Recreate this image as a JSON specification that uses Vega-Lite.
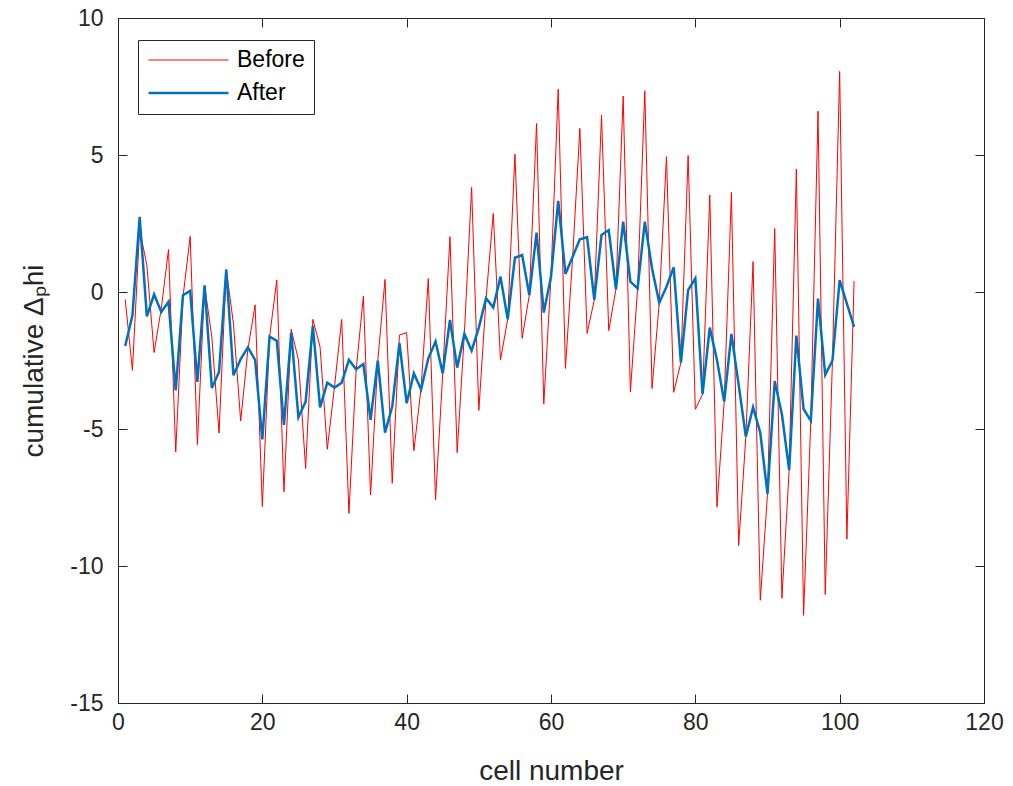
{
  "$schema": "https://vega.github.io/schema/vega-lite/v6.json",
  "width": 866,
  "height": 685,
  "autosize": {"type": "none"},
  "padding": {"left": 118, "top": 18, "right": 29, "bottom": 83},
  "background": "white",
  "config": {
    "view": {"stroke": "#262626", "strokeWidth": 1},
    "font": "Liberation Sans",
    "axis": {
      "domainColor": "#262626",
      "tickColor": "#262626",
      "labelColor": "#262626",
      "titleColor": "#262626",
      "labelFont": "Liberation Sans",
      "titleFont": "Liberation Sans",
      "labelFontSize": 23,
      "titleFontSize": 28,
      "titleFontWeight": "normal",
      "tickSize": -9,
      "labelFlush": false,
      "grid": false
    }
  },
  "data": {
    "values": [
      {"cell": 1, "Before": -0.27, "After": -1.97},
      {"cell": 2, "Before": -2.86, "After": -0.85},
      {"cell": 3, "Before": 2.3, "After": 2.74},
      {"cell": 4, "Before": 0.97, "After": -0.89},
      {"cell": 5, "Before": -2.21, "After": -0.09},
      {"cell": 6, "Before": -0.6, "After": -0.73},
      {"cell": 7, "Before": 1.55, "After": -0.36},
      {"cell": 8, "Before": -5.84, "After": -3.59},
      {"cell": 9, "Before": -0.2, "After": -0.12},
      {"cell": 10, "Before": 2.03, "After": 0.04},
      {"cell": 11, "Before": -5.57, "After": -3.28},
      {"cell": 12, "Before": 0.24, "After": 0.24},
      {"cell": 13, "Before": -1.64, "After": -3.5},
      {"cell": 14, "Before": -5.15, "After": -2.92},
      {"cell": 15, "Before": 0.82, "After": 0.82},
      {"cell": 16, "Before": -1.16, "After": -3.04},
      {"cell": 17, "Before": -4.71, "After": -2.45},
      {"cell": 18, "Before": -2.1, "After": -2.02},
      {"cell": 19, "Before": -0.47, "After": -2.48},
      {"cell": 20, "Before": -7.83, "After": -5.38},
      {"cell": 21, "Before": -1.65, "After": -1.63},
      {"cell": 22, "Before": 0.44, "After": -1.78},
      {"cell": 23, "Before": -7.29, "After": -4.85},
      {"cell": 24, "Before": -1.36, "After": -1.48},
      {"cell": 25, "Before": -2.48, "After": -4.57},
      {"cell": 26, "Before": -6.44, "After": -4.0},
      {"cell": 27, "Before": -1.0, "After": -1.24},
      {"cell": 28, "Before": -2.0, "After": -4.21},
      {"cell": 29, "Before": -5.74, "After": -3.31},
      {"cell": 30, "Before": -3.45, "After": -3.49},
      {"cell": 31, "Before": -1.0, "After": -3.31},
      {"cell": 32, "Before": -8.08, "After": -2.48},
      {"cell": 33, "Before": -2.85, "After": -2.82},
      {"cell": 34, "Before": -0.15, "After": -2.63},
      {"cell": 35, "Before": -7.41, "After": -4.67},
      {"cell": 36, "Before": -2.5, "After": -2.5},
      {"cell": 37, "Before": 0.46, "After": -5.13},
      {"cell": 38, "Before": -6.98, "After": -4.18},
      {"cell": 39, "Before": -1.57, "After": -1.87},
      {"cell": 40, "Before": -1.48, "After": -4.06},
      {"cell": 41, "Before": -5.79, "After": -2.97},
      {"cell": 42, "Before": -3.5, "After": -3.55},
      {"cell": 43, "Before": 0.49, "After": -2.42},
      {"cell": 44, "Before": -7.59, "After": -1.81},
      {"cell": 45, "Before": -2.95, "After": -2.97},
      {"cell": 46, "Before": 2.02, "After": -1.02},
      {"cell": 47, "Before": -5.86, "After": -2.76},
      {"cell": 48, "Before": -1.5, "After": -1.53},
      {"cell": 49, "Before": 3.82, "After": -2.14},
      {"cell": 50, "Before": -4.32, "After": -1.3},
      {"cell": 51, "Before": -0.25, "After": -0.23},
      {"cell": 52, "Before": 2.87, "After": -0.56},
      {"cell": 53, "Before": -2.48, "After": 0.56},
      {"cell": 54, "Before": -1.0, "After": -1.0},
      {"cell": 55, "Before": 5.03, "After": 1.25},
      {"cell": 56, "Before": -1.69, "After": 1.35},
      {"cell": 57, "Before": -0.11, "After": -0.11},
      {"cell": 58, "Before": 6.15, "After": 2.17},
      {"cell": 59, "Before": -4.09, "After": -0.75},
      {"cell": 60, "Before": 0.56, "After": 0.56},
      {"cell": 61, "Before": 7.4, "After": 3.33},
      {"cell": 62, "Before": -2.79, "After": 0.66},
      {"cell": 63, "Before": 1.29, "After": 1.29},
      {"cell": 64, "Before": 5.97, "After": 1.92},
      {"cell": 65, "Before": -1.51, "After": 2.0},
      {"cell": 66, "Before": -0.29, "After": -0.29},
      {"cell": 67, "Before": 6.46, "After": 2.08},
      {"cell": 68, "Before": -1.41, "After": 2.26},
      {"cell": 69, "Before": 0.1, "After": 0.1},
      {"cell": 70, "Before": 7.15, "After": 2.57},
      {"cell": 71, "Before": -3.64, "After": 0.38},
      {"cell": 72, "Before": 0.13, "After": 0.13},
      {"cell": 73, "Before": 7.34, "After": 2.57},
      {"cell": 74, "Before": -3.52, "After": 0.86},
      {"cell": 75, "Before": -0.39, "After": -0.39},
      {"cell": 76, "Before": 4.94, "After": 0.19},
      {"cell": 77, "Before": -3.66, "After": 0.9},
      {"cell": 78, "Before": -2.58, "After": -2.58},
      {"cell": 79, "Before": 4.98, "After": 0.07},
      {"cell": 80, "Before": -4.28, "After": 0.5},
      {"cell": 81, "Before": -3.73, "After": -3.73},
      {"cell": 82, "Before": 3.54, "After": -1.3},
      {"cell": 83, "Before": -7.85, "After": -2.48},
      {"cell": 84, "Before": -4.0, "After": -4.0},
      {"cell": 85, "Before": 3.63, "After": -1.53},
      {"cell": 86, "Before": -9.26, "After": -3.38},
      {"cell": 87, "Before": -5.28, "After": -5.28},
      {"cell": 88, "Before": 1.11, "After": -4.2},
      {"cell": 89, "Before": -11.25, "After": -5.14},
      {"cell": 90, "Before": -7.37, "After": -7.37},
      {"cell": 91, "Before": 2.32, "After": -3.25},
      {"cell": 92, "Before": -11.18, "After": -4.47},
      {"cell": 93, "Before": -6.5, "After": -6.5},
      {"cell": 94, "Before": 4.49, "After": -1.59},
      {"cell": 95, "Before": -11.8, "After": -4.27},
      {"cell": 96, "Before": -4.7, "After": -4.7},
      {"cell": 97, "Before": 6.6, "After": -0.24},
      {"cell": 98, "Before": -11.04, "After": -3.02},
      {"cell": 99, "Before": -2.5, "After": -2.5},
      {"cell": 100, "Before": 8.05, "After": 0.43},
      {"cell": 101, "Before": -9.02, "After": -0.42},
      {"cell": 102, "Before": 0.4, "After": -1.27}
    ]
  },
  "transform": [{"fold": ["Before", "After"], "as": ["series", "value"]}],
  "layer": [
    {
      "mark": {"type": "line", "clip": true},
      "encoding": {
        "x": {
          "field": "cell",
          "type": "quantitative",
          "scale": {"domain": [0, 120], "nice": false, "zero": false},
          "axis": {"values": [0, 20, 40, 60, 80, 100, 120], "title": "cell number", "labelPadding": 17, "titlePadding": 23}
        },
        "y": {
          "field": "value",
          "type": "quantitative",
          "scale": {"domain": [-15, 10], "nice": false, "zero": false},
          "axis": {"values": [-15, -10, -5, 0, 5, 10], "title": "cumulative Δₚhi", "labelExpr": "toString(datum.value)", "labelPadding": 24, "titlePadding": 21}
        },
        "color": {
          "field": "series",
          "type": "nominal",
          "sort": ["Before", "After"],
          "scale": {"domain": ["Before", "After"], "range": ["#FF0000", "#0072BD"]},
          "legend": {
            "orient": "none",
            "legendX": 20,
            "legendY": 22,
            "title": null,
            "symbolType": "stroke",
            "symbolSize": 6400,
            "clipHeight": 22,
            "rowPadding": 10,
            "padding": 9,
            "strokeColor": "#262626",
            "fillColor": "white",
            "labelFontSize": 23,
            "labelFont": "Liberation Sans",
            "labelColor": "black",
            "labelOffset": 7
          }
        },
        "strokeWidth": {
          "field": "series",
          "type": "nominal",
          "scale": {"domain": ["Before", "After"], "range": [1, 2.5]}
        }
      }
    },
    {
      "mark": {"type": "line", "opacity": 0},
      "encoding": {
        "x": {
          "field": "cell",
          "type": "quantitative",
          "axis": {"orient": "top", "values": [0, 20, 40, 60, 80, 100, 120], "labels": false, "title": null}
        },
        "y": {
          "field": "value",
          "type": "quantitative",
          "axis": {"orient": "right", "values": [-15, -10, -5, 0, 5, 10], "labels": false, "title": null}
        },
        "detail": {"field": "series"}
      }
    }
  ],
  "resolve": {"axis": {"x": "independent", "y": "independent"}}
}
